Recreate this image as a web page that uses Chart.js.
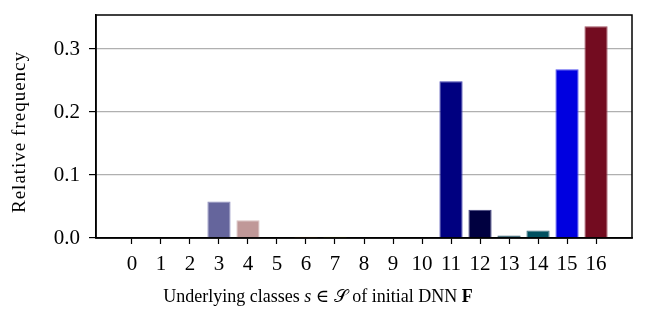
<!DOCTYPE html>
<html><head><meta charset="utf-8">
<script src="https://cdn.jsdelivr.net/npm/chart.js@4"></script>
<style>html,body{margin:0;padding:0;background:#fff}#w{width:648px;height:324px}</style>
</head><body><div id="w"><canvas id="c" width="648" height="324"></canvas></div>
<script>
const classes = [0,1,2,3,4,5,6,7,8,9,10,11,12,13,14,15,16];
const freqs = [0,0,0,0.058,0.028,0,0.002,0.002,0,0,0,0.249,0.045,0.004,0.012,0.268,0.336];
const colors = ['#000000','#000000','#000000','#65659c','#c09898','#000000','#f0a040','#cccc20','#000000','#000000','#000000','#000080','#000040','#003f50','#005060','#0000e0','#730c20'];
const edges = ['#000000','#000000','#000000','#9090c0','#d8c0c0','#000000','#f8c890','#e0e080','#000000','#000000','#000000','#4040b0','#404080','#406070','#407080','#5050f0','#a05060'];
const yTicks = [0,0.1,0.2,0.3];
const yLabel = 'Relative frequency';
const serif = "'Liberation Serif','DejaVu Serif',serif";

const frame = {
  id:'frame',
  afterDraw(ch){
    const a=ch.chartArea, c=ch.ctx;
    c.save();
    c.strokeStyle='#000'; c.lineWidth=1.5;
    c.strokeRect(a.left,a.top,a.right-a.left,a.bottom-a.top);
    c.fillStyle='#000';
    c.textBaseline='middle';
    const parts=[['Underlying classes ',''],['s','italic '],[' \u2208 ',''],['\uD835\uDCAE',''],[' of initial DNN ',''],['F','bold ']];
    let tot=0; const ws=[];
    for(const [t,s] of parts){c.font=s+"18px "+serif; const w=c.measureText(t).width; ws.push(w); tot+=w;}
    let x=318-tot/2; c.textAlign='left';
    parts.forEach(([t,s],i)=>{c.font=s+"18px "+serif; c.fillText(t,x,297); x+=ws[i];});
    c.translate(20,132); c.rotate(-Math.PI/2);
    c.textAlign='center'; c.font="19px "+serif;
    try{c.letterSpacing='1px';}catch(e){}
    c.fillText(yLabel,0,0);
    c.restore();
  }
};

new Chart(document.getElementById('c'),{
  type:'bar',
  data:{datasets:[{
    data:classes.map((c,i)=>({x:c,y:freqs[i]})),
    backgroundColor:colors, borderColor:edges, borderWidth:1,
    barPercentage:0.8, categoryPercentage:1
  }]},
  options:{
    responsive:false, animation:false,
    layout:{padding:{left:0,right:16,top:15,bottom:0}},
    plugins:{legend:{display:false},tooltip:{enabled:false}},
    scales:{
      x:{type:'linear',min:-1.24,max:17.24,offset:false,
        afterBuildTicks(s){s.ticks=classes.map(v=>({value:v}));},
        afterFit(s){s.height=86;s.paddingLeft=0;s.paddingRight=0;},
        grid:{offset:false,drawOnChartArea:false,drawTicks:true,tickLength:6,tickColor:'#000',tickWidth:1.2},
        border:{display:true,color:'#000',width:1.5},
        ticks:{color:'#000',font:{family:serif,size:21},padding:8,maxRotation:0,autoSkip:false,callback:v=>String(v)}
      },
      y:{min:0,max:0.354,
        afterBuildTicks(s){s.ticks=yTicks.map(v=>({value:v}));},
        afterFit(s){s.width=96;s.paddingTop=0;s.paddingBottom=0;},
        grid:{color:'#b0b0b0',lineWidth:1.2,drawTicks:true,tickLength:7,tickColor:'#000',tickWidth:1.2},
        border:{display:true,color:'#000',width:1.5},
        ticks:{color:'#000',font:{family:serif,size:21},padding:9,callback:v=>v.toFixed(1)}
      }
    }
  },
  plugins:[frame]
});
</script></body></html>
